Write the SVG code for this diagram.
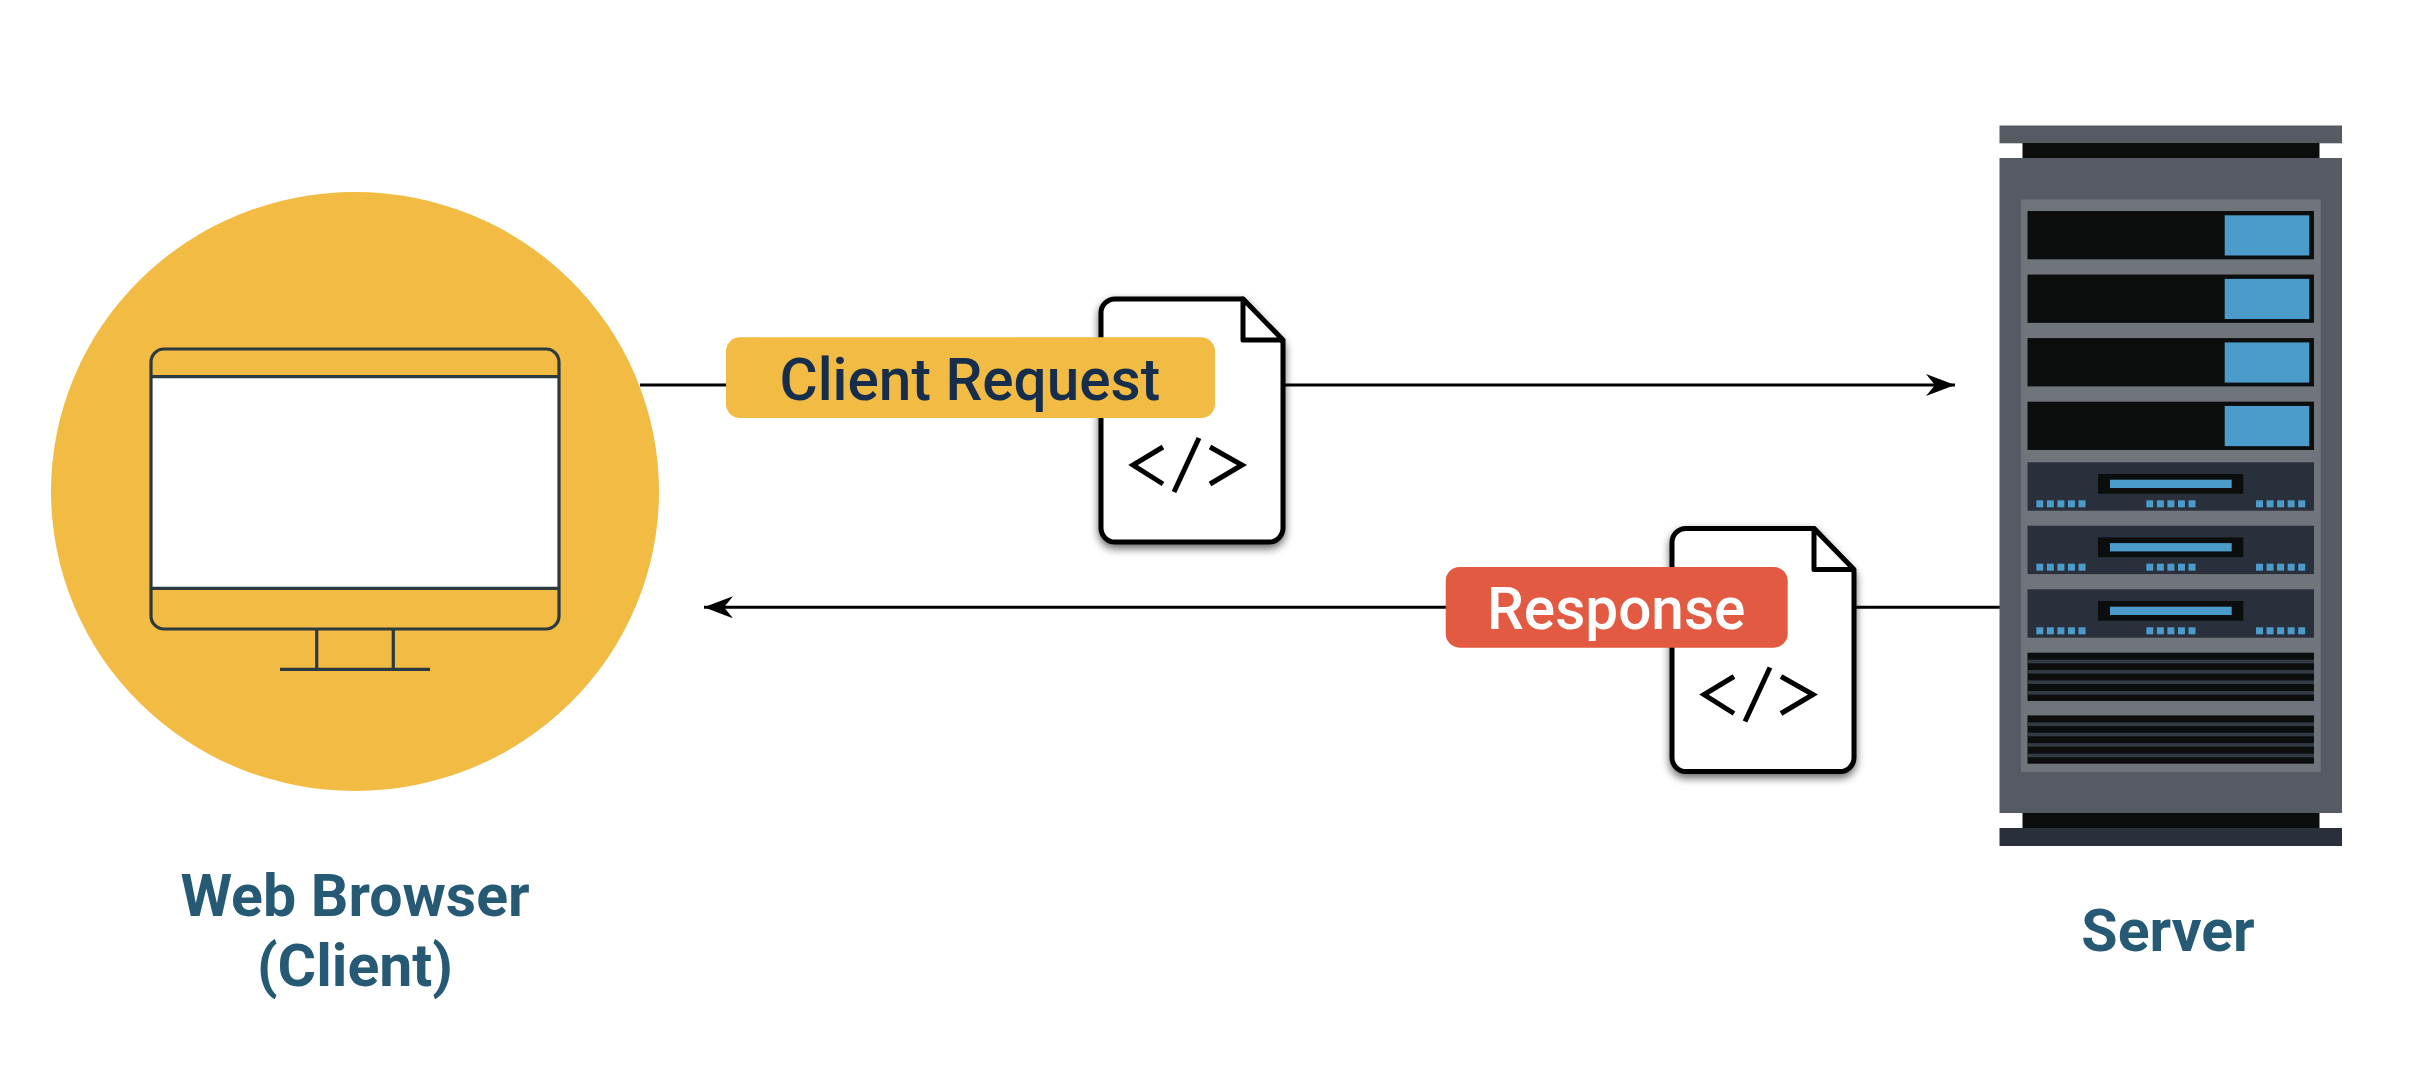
<svg xmlns="http://www.w3.org/2000/svg" xmlns:xlink="http://www.w3.org/1999/xlink" width="2426" height="1086" viewBox="0 0 2426 1086">
<style>
.mon{fill:none;stroke:#2c3a40;stroke-width:3.2}
.doc{fill:#fff;stroke:#000;stroke-width:5;stroke-linejoin:round}
.code{fill:none;stroke:#000;stroke-width:5}
.conn{stroke:#000;stroke-width:3;fill:none}
.lbl{font-family:Roboto,"Liberation Sans",sans-serif;font-weight:500;font-size:58.5px}
.cap{font-family:Roboto,"Liberation Sans",sans-serif;font-weight:700;font-size:59px;fill:#265a74;text-anchor:middle}
.dark{fill:#0c0d0d}
.blue{fill:#4b9bcb}
.panel{fill:#2a303b}
.slot{fill:#333a44}
</style>
<defs>
<filter id="sh" x="-15%" y="-15%" width="130%" height="130%"><feGaussianBlur in="SourceAlpha" stdDeviation="4"/><feOffset dy="4"/><feComponentTransfer><feFuncA type="linear" slope="0.6"/></feComponentTransfer><feMerge><feMergeNode/><feMergeNode in="SourceGraphic"/></feMerge></filter>
<g id="docicon">
<path class="doc" filter="url(#sh)" d="M1115 299H1243L1283 342V528a14 14 0 0 1-14 14H1115a14 14 0 0 1-14-14V313a14 14 0 0 1 14-14Z"/>
<path d="M1243 299L1283 340H1243Z" fill="#fff" stroke="#000" stroke-width="5" stroke-linejoin="round"/>
<path class="code" d="M1163 447L1133 465L1163 484M1210 447L1242 465L1210 484M1199 438L1174 492"/>
</g>
<g id="rowA"><rect class="dark" x="2027.5" y="211" width="286.5" height="48.3"/><rect class="blue" x="2224.7" y="215.3" width="84.6" height="40.2"/></g>
<g id="leds"><rect class="blue" x="0" width="7" height="7"/><rect class="blue" x="10.55" width="7" height="7"/><rect class="blue" x="21.1" width="7" height="7"/><rect class="blue" x="31.65" width="7" height="7"/><rect class="blue" x="42.2" width="7" height="7"/></g>
<g id="rowB"><rect class="panel" x="2027.5" y="462.3" width="286.5" height="48.4"/><rect class="dark" x="2098" y="474" width="145.3" height="19.7"/><rect class="blue" x="2110" y="479.7" width="121.7" height="8.3"/><use xlink:href="#leds" x="2036.3" y="500.3"/><use xlink:href="#leds" x="2146.3" y="500.3"/><use xlink:href="#leds" x="2256" y="500.3"/></g>
<g id="vent"><rect class="dark" x="2027.5" y="652.7" width="286.5" height="48.3"/><rect class="slot" x="2027.5" y="659.7" width="286.5" height="3.6"/><rect class="slot" x="2027.5" y="670" width="286.5" height="3.6"/><rect class="slot" x="2027.5" y="680.4" width="286.5" height="3.6"/><rect class="slot" x="2027.5" y="691" width="286.5" height="3.6"/></g>
<marker id="ah" viewBox="0 0 30 22" refX="29" refY="11" markerUnits="userSpaceOnUse" markerWidth="30" markerHeight="22" orient="auto"><path d="M0 0L29 11L0 22L9 11Z" fill="#000"/></marker>
</defs>
<rect width="2426" height="1086" fill="#fff"/>
<g id="connectors">
<line class="conn" x1="640" y1="385" x2="1955" y2="385" marker-end="url(#ah)"/>
<line class="conn" x1="2000" y1="607.3" x2="704" y2="607.3" marker-end="url(#ah)"/>
</g>
<g id="client">
<ellipse cx="355" cy="491.5" rx="304" ry="299.5" fill="#f2bb43"/>
<rect x="150" y="376.7" width="410" height="211.6" fill="#fff"/>
<rect class="mon" x="151" y="349" width="408" height="280" rx="13"/>
<path class="mon" d="M151 376.7H559M151 588.3H559M316.7 629V669.3M393.3 629V669.3M280 669.3H430"/>
<text class="cap" x="355" y="916">Web Browser</text>
<text class="cap" x="355" y="986">(Client)</text>
</g>
<g id="server">
<rect x="1999.5" y="125.5" width="342.5" height="17.8" fill="#565b63"/>
<rect class="dark" x="2022.5" y="143" width="297" height="15"/>
<rect x="1999.5" y="158" width="342.5" height="655" fill="#565b63"/>
<rect class="dark" x="2022.5" y="813" width="297" height="15"/>
<rect class="panel" x="1999.5" y="828" width="342.5" height="18"/>
<rect x="2021" y="199.5" width="299.7" height="572.5" fill="#70747b"/>
<use xlink:href="#rowA"/><use xlink:href="#rowA" y="63.55"/><use xlink:href="#rowA" y="127.1"/><use xlink:href="#rowA" y="190.65"/>
<use xlink:href="#rowB"/><use xlink:href="#rowB" y="63.4"/><use xlink:href="#rowB" y="127"/>
<use xlink:href="#vent"/><use xlink:href="#vent" y="62.7"/>
<text class="cap" x="2168" y="951">Server</text>
</g>
<g id="request">
<use xlink:href="#docicon"/>
<rect x="726" y="337.3" width="489" height="80.7" rx="14" fill="#f2bb43"/>
<text class="lbl" x="779.5" y="400" fill="#162e4b">Client Request</text>
</g>
<g id="response">
<use xlink:href="#docicon" x="571" y="229.5"/>
<rect x="1445.7" y="567" width="342" height="80.7" rx="14" fill="#e15a41"/>
<text class="lbl" x="1487" y="629" fill="#fff">Response</text>
</g>
</svg>
